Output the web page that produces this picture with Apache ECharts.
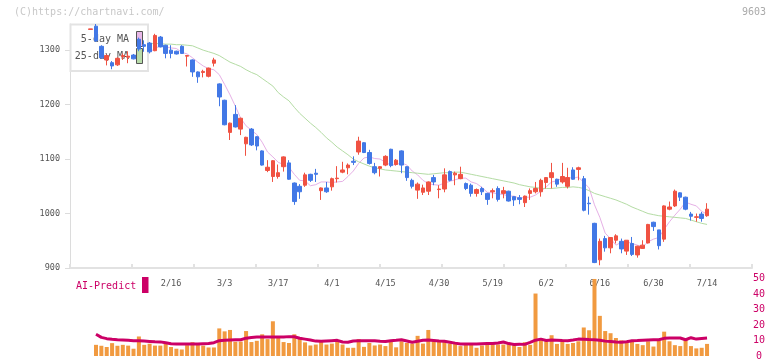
<!DOCTYPE html>
<html>
<head>
<meta charset="utf-8">
<script src="https://cdn.jsdelivr.net/npm/echarts@6/dist/echarts.min.js"></script>
<style>
    html, body { margin: 0; padding: 0; background: #fff; }
    #chart { width: 772px; height: 361px; }
</style>
</head>
<body>
<div id="chart"></div>
<script>
// 日付 (trading days)
var dates = ['1/23', '1/26', '1/27', '1/28', '1/29', '1/30', '2/2', '2/3', '2/4', '2/5', '2/6', '2/9', '2/10', '2/12', '2/13',
    '2/16', '2/17', '2/18', '2/19', '2/20', '2/24', '2/25', '2/26', '2/27', '3/2', '3/3', '3/4', '3/5', '3/6', '3/9',
    '3/10', '3/11', '3/12', '3/13', '3/16', '3/17', '3/18', '3/19', '3/23', '3/24', '3/25', '3/26', '3/27', '3/30', '3/31',
    '4/1', '4/2', '4/3', '4/6', '4/7', '4/8', '4/9', '4/10', '4/13', '4/14', '4/15', '4/16', '4/17', '4/20', '4/21',
    '4/22', '4/23', '4/24', '4/27', '4/28', '4/30', '5/1', '5/7', '5/8', '5/11', '5/12', '5/13', '5/14', '5/15', '5/18',
    '5/19', '5/20', '5/21', '5/22', '5/25', '5/26', '5/27', '5/28', '5/29', '6/1', '6/2', '6/3', '6/4', '6/5', '6/8',
    '6/9', '6/10', '6/11', '6/12', '6/15', '6/16', '6/17', '6/18', '6/19', '6/22', '6/23', '6/24', '6/25', '6/26', '6/29',
    '6/30', '7/1', '7/2', '7/3', '7/6', '7/7', '7/8', '7/9', '7/10', '7/13', '7/14'];

var dateLabels = ['2/16', '3/3', '3/17', '4/1', '4/15', '4/30', '5/19', '6/2', '6/16', '6/30', '7/14'];
var priceTicks = [900, 1000, 1100, 1200, 1300];
var volTicks = [0, 10, 20, 30, 40, 50];

var opens = [1338, 1344, 1307, 1282, 1277, 1273, 1288, 1287, 1291, 1320, 1310, 1313, 1299, 1324, 1309,
    1300, 1298, 1307, 1289, 1282, 1260, 1259, 1252, 1276, 1238, 1208, 1149, 1182, 1155, 1128,
    1155, 1141, 1115, 1079, 1068, 1068, 1086, 1093, 1056, 1050, 1052, 1072, 1074, 1042, 1047,
    1049, 1064, 1076, 1084, 1096, 1113, 1130, 1112, 1086, 1083, 1089, 1118, 1090, 1115, 1086,
    1061, 1043, 1039, 1041, 1066, 1044, 1045, 1077, 1071, 1064, 1055, 1052, 1037, 1046, 1037,
    1040, 1046, 1037, 1041, 1031, 1029, 1020, 1037, 1040, 1040, 1057, 1066, 1063, 1058, 1050,
    1080, 1081, 1064, 1019, 982, 915, 954, 937, 951, 949, 931, 945, 924, 936, 946,
    984, 970, 953, 1008, 1014, 1038, 1030, 999, 993, 999, 996];
var closes = [1339, 1317, 1286, 1290, 1271, 1285, 1290, 1289, 1284, 1302, 1307, 1297, 1327, 1306, 1294,
    1294, 1293, 1294, 1290, 1260, 1251, 1261, 1267, 1282, 1214, 1163, 1166, 1159, 1175, 1140,
    1126, 1124, 1089, 1085, 1097, 1075, 1104, 1063, 1022, 1040, 1071, 1061, 1072, 1047, 1040,
    1064, 1065, 1080, 1089, 1094, 1133, 1112, 1092, 1075, 1086, 1105, 1088, 1098, 1089, 1066,
    1050, 1054, 1047, 1058, 1058, 1045, 1071, 1061, 1074, 1072, 1046, 1037, 1044, 1040, 1026,
    1042, 1026, 1042, 1023, 1025, 1026, 1032, 1042, 1046, 1061, 1066, 1075, 1054, 1068, 1066,
    1063, 1084, 1006, 1018, 910, 949, 937, 956, 959, 935, 951, 925, 940, 942, 980,
    976, 941, 1014, 1012, 1041, 1030, 1008, 995, 994, 991, 1008];
var lows = [1338, 1315, 1284, 1272, 1265, 1271, 1282, 1276, 1283, 1298, 1297, 1294, 1298, 1305, 1285,
    1285, 1292, 1293, 1270, 1251, 1240, 1250, 1250, 1270, 1197, 1162, 1135, 1158, 1144, 1106,
    1124, 1116, 1088, 1076, 1058, 1064, 1077, 1062, 1016, 1027, 1049, 1058, 1058, 1025, 1038,
    1042, 1057, 1074, 1072, 1089, 1108, 1111, 1090, 1072, 1068, 1087, 1085, 1088, 1074, 1060,
    1046, 1027, 1034, 1034, 1052, 1028, 1039, 1059, 1052, 1063, 1043, 1031, 1031, 1034, 1016,
    1028, 1022, 1028, 1022, 1014, 1017, 1012, 1025, 1037, 1031, 1046, 1046, 1049, 1055, 1046,
    1062, 1061, 1004, 998, 909, 905, 930, 927, 945, 927, 924, 922, 919, 935, 945,
    968, 934, 948, 1006, 1012, 1023, 1006, 987, 985, 985, 994];
var highs = [1339, 1348, 1309, 1292, 1280, 1287, 1294, 1298, 1293, 1323, 1318, 1315, 1330, 1326, 1310,
    1309, 1299, 1309, 1291, 1283, 1261, 1264, 1268, 1286, 1239, 1209, 1167, 1199, 1176, 1141,
    1157, 1142, 1116, 1098, 1098, 1090, 1105, 1098, 1057, 1054, 1075, 1073, 1082, 1048, 1058,
    1066, 1087, 1095, 1092, 1105, 1141, 1131, 1117, 1093, 1087, 1107, 1119, 1100, 1116, 1087,
    1064, 1057, 1053, 1059, 1071, 1052, 1083, 1079, 1077, 1086, 1057, 1055, 1046, 1049, 1038,
    1046, 1050, 1049, 1042, 1032, 1034, 1033, 1046, 1058, 1064, 1067, 1093, 1064, 1093, 1084,
    1085, 1086, 1069, 1031, 983, 954, 959, 956, 962, 954, 951, 957, 941, 951, 981,
    985, 970, 1015, 1022, 1044, 1039, 1031, 1003, 1000, 1003, 1019];

// 5日移動平均
var ma5 = ['-', 1320, 1310, 1305, 1295, 1290, 1284, 1285, 1284, 1290, 1294, 1296, 1303, 1308, 1306,
    1304, 1303, 1296, 1293, 1286, 1278, 1271, 1266, 1264, 1255, 1237, 1218, 1197, 1175, 1161,
    1153, 1145, 1131, 1113, 1104, 1094, 1090, 1085, 1072, 1061, 1060, 1051, 1053, 1058, 1058,
    1057, 1058, 1059, 1068, 1078, 1092, 1102, 1104, 1101, 1100, 1094, 1089, 1090, 1093, 1089,
    1078, 1071, 1061, 1055, 1053, 1052, 1056, 1059, 1062, 1065, 1065, 1058, 1055, 1048, 1039,
    1038, 1036, 1035, 1032, 1032, 1028, 1030, 1030, 1034, 1041, 1049, 1058, 1060, 1065, 1066,
    1065, 1067, 1057, 1047, 1016, 993, 964, 954, 942, 947, 948, 945, 942, 939, 948,
    953, 956, 971, 985, 997, 1008, 1021, 1017, 1014, 1004, 999];

// 25日移動平均
var ma25 = ['-', 1316, 1316, 1315, 1315, 1314, 1314, 1313, 1313, 1313, 1313, 1312, 1312, 1312, 1311,
    1311, 1310, 1310, 1309, 1308, 1304, 1300, 1297, 1294, 1290, 1284, 1278, 1274, 1270, 1264,
    1259, 1255, 1248, 1241, 1234, 1222, 1214, 1207, 1195, 1184, 1175, 1166, 1158, 1149, 1139,
    1131, 1122, 1115, 1108, 1100, 1095, 1091, 1087, 1084, 1082, 1080, 1079, 1078, 1077, 1076,
    1075, 1074, 1073, 1072, 1073, 1074, 1075, 1075, 1076, 1076, 1074, 1072, 1070, 1068, 1066,
    1064, 1062, 1060, 1058, 1056, 1053, 1051, 1049, 1048, 1046, 1046, 1046, 1047, 1048, 1048,
    1049, 1048, 1046, 1042, 1037, 1034, 1031, 1028, 1025, 1021, 1017, 1012, 1008, 1004, 1000,
    998, 996, 995, 994, 993, 992, 991, 988, 985, 982, 980];

// 出来高
var volumes = ['-', 7.2, 6.6, 5.8, 8.3, 6.6, 7.2, 6.7, 4.7, 12.6, 7.2, 7.9, 6.7, 6.7, 8.9,
    5.8, 4.7, 4.2, 7, 8.9, 7.2, 6.7, 5.5, 5.5, 17.8, 15.9, 16.8, 9.2, 9.3, 16.1,
    9, 9.8, 14, 10.9, 22.4, 11.6, 9, 8.4, 14, 11.6, 8.8, 6.8, 7.4, 9.5, 7.4,
    8, 9.5, 7.4, 5.3, 5.3, 10.9, 5.9, 8.4, 6.8, 7.4, 6.4, 9, 5.6, 9.5, 8.4,
    8, 13, 8, 16.8, 9.5, 9.5, 9.5, 8, 8.8, 6.4, 8, 8, 5.3, 6.8, 7.4,
    8.8, 7.4, 7.4, 7.7, 6.9, 5.8, 8.9, 7.2, 40.3, 11.3, 9.5, 13.4, 7.8, 9.5, 7.8,
    8.4, 9.5, 18.4, 16.6, 49.7, 25.9, 16.1, 14.7, 11.6, 10.1, 8.4, 9.5, 7.8, 7, 9.5,
    6.1, 9.9, 15.7, 9.5, 7, 6.4, 10.5, 6.4, 4.9, 5.3, 7.8];

var volMA = ['-', 14, 12, 11.2, 10.8, 10.5, 10.3, 10.1, 9.9, 9.8, 9.6, 9.4, 9.2, 9.1, 8.5,
    7.9, 7.8, 7.8, 7.8, 7.8, 7.8, 7.9, 8, 8.6, 9.9, 10.2, 10.4, 10.5, 10.5, 11.5,
    12, 12.2, 12.2, 12.2, 12.2, 12.2, 12.3, 12.5, 12.4, 11.5, 10.9, 10.3, 9.6, 9.5, 9.7,
    9.9, 10.1, 9, 8.9, 9.7, 9.9, 9.9, 9.9, 9.9, 9.5, 9.3, 9.9, 10.1, 10.5, 9.7,
    8.9, 9.5, 10.1, 10.3, 10, 9.7, 9.5, 8.9, 8.3, 7.8, 7.8, 7.8, 7.8, 7.9, 8,
    8, 8.4, 9, 8, 7.4, 7.6, 7.5, 8.8, 10.2, 10.9, 10, 10.3, 10.2, 10, 9.9,
    10.3, 10.9, 10.8, 10.6, 10.5, 10.1, 9.6, 9.3, 9, 8.9, 9.2, 9.9, 10, 10.2, 10.4,
    10.5, 10.5, 11.4, 11.6, 11.6, 11.6, 10.5, 11.8, 10.9, 11.3, 11.6];

var MONO = 'DejaVu Sans Mono';
var myChart;

window.onload = function () {
    myChart = echarts.init(document.getElementById('chart'), null, { renderer: 'canvas' });

    // ローソク足データ [open, close, low, high]
    var candles = [];
    for (var i = 0; i < dates.length; i++) {
        candles.push([opens[i], closes[i], lows[i], highs[i]]);
    }

    var option = {
        animation: false,
        backgroundColor: '#fff',
        grid: [
            { left: 70, right: 20, top: 24, bottom: 93 },
            { left: 87.96, right: 62.28, top: 24, bottom: 93 },
            { left: 87.96, right: 62.28, top: 278.5, bottom: 2.5 }
        ],
        xAxis: [{
            // 枠線と目盛りだけ
            gridIndex: 0,
            type: 'value',
            min: 0,
            max: 11,
            interval: 1,
            axisLine: { lineStyle: { color: '#e2e2e2', width: 2 } },
            axisTick: { inside: true, length: 4, lineStyle: { color: '#e2e2e2', width: 2 } },
            axisLabel: { show: false },
            splitLine: { show: false }
        }, {
            gridIndex: 1,
            type: 'category',
            data: dates,
            axisLine: { show: false },
            axisTick: { show: false },
            axisLabel: {
                interval: function (index, value) {
                    return dateLabels.indexOf(value) >= 0;
                },
                margin: 11,
                color: '#555',
                fontSize: 8.5,
                fontFamily: MONO
            }
        }, {
            gridIndex: 2,
            type: 'category',
            data: dates,
            show: false
        }],
        yAxis: [{
            gridIndex: 0,
            type: 'value',
            min: 900,
            max: 1348,
            axisLine: { show: true, lineStyle: { color: '#dcdcdc', width: 1 } },
            axisTick: { show: true, length: 5, customValues: priceTicks, lineStyle: { color: '#dcdcdc', width: 1 } },
            axisLabel: {
                customValues: priceTicks,
                formatter: function (v) { return String(v); },
                margin: 10,
                color: '#555',
                fontSize: 8.5,
                fontFamily: MONO
            },
            splitLine: { show: false }
        }, {
            gridIndex: 1,
            type: 'value',
            min: 900,
            max: 1348,
            show: false
        }, {
            gridIndex: 2,
            type: 'value',
            min: 0,
            max: 50,
            position: 'right',
            axisLine: { show: false },
            axisTick: { show: false },
            splitLine: { show: false },
            axisLabel: {
                customValues: volTicks,
                margin: 49.3,
                align: 'center',
                color: '#cc0066',
                fontSize: 10,
                fontFamily: MONO
            }
        }],
        graphic: [
            { type: 'text', left: 14, top: 7, z: 1, style: { text: '(C)https://chartnavi.com/', fill: '#c8c8c8', font: '10px ' + MONO } },
            { type: 'text', right: 6, top: 7, z: 1, style: { text: '9603', fill: '#aaa', font: '10px ' + MONO } },
            // 凡例の枠
            { type: 'rect', z: 5, shape: { x: 70.5, y: 24.5, width: 77.5, height: 46.5 }, style: { fill: '#fff', stroke: '#e3e3e3', lineWidth: 2 } },
            { type: 'text', z: 6, x: 129, y: 39, style: { text: '5-day MA', fill: '#555', font: '10px ' + MONO, textAlign: 'right', textVerticalAlign: 'middle' } },
            { type: 'text', z: 6, x: 129, y: 56.5, style: { text: '25-day MA', fill: '#555', font: '10px ' + MONO, textAlign: 'right', textVerticalAlign: 'middle' } },
            { type: 'rect', z: 6, shape: { x: 136.5, y: 31.5, width: 6, height: 15 }, style: { fill: '#e8b8e8', stroke: '#555', lineWidth: 1 } },
            { type: 'rect', z: 6, shape: { x: 136.5, y: 48.5, width: 6, height: 15 }, style: { fill: '#b8dcaa', stroke: '#555', lineWidth: 1 } },
            // AI-Predict
            { type: 'text', z: 6, x: 76, y: 286, style: { text: 'AI-Predict', fill: '#cc0066', font: '10px ' + MONO, textVerticalAlign: 'middle' } },
            { type: 'rect', z: 6, shape: { x: 142, y: 277, width: 6.5, height: 16 }, style: { fill: '#cc0066' } }
        ],
        series: [{
            name: '5-day MA',
            type: 'line',
            xAxisIndex: 1,
            yAxisIndex: 1,
            data: ma5,
            symbol: 'none',
            z: 2,
            lineStyle: { color: '#e6b0e6', width: 1 }
        }, {
            name: '25-day MA',
            type: 'line',
            xAxisIndex: 1,
            yAxisIndex: 1,
            data: ma25,
            symbol: 'none',
            z: 2,
            lineStyle: { color: '#b4dca4', width: 1 }
        }, {
            name: 'price',
            type: 'candlestick',
            xAxisIndex: 1,
            yAxisIndex: 1,
            data: candles,
            barWidth: 4,
            z: 10,
            itemStyle: {
                color: '#f05242',
                color0: '#4278e6',
                borderColor: '#f05242',
                borderColor0: '#4278e6',
                borderWidth: 1
            }
        }, {
            name: 'volume',
            type: 'bar',
            xAxisIndex: 2,
            yAxisIndex: 2,
            data: volumes,
            barWidth: 4,
            itemStyle: { color: '#f19a40' }
        }, {
            name: 'volume MA',
            type: 'line',
            xAxisIndex: 2,
            yAxisIndex: 2,
            data: volMA,
            symbol: 'none',
            z: 5,
            lineStyle: { color: '#cc0066', width: 3 }
        }]
    };

    myChart.setOption(option);
};
</script>
</body>
</html>
